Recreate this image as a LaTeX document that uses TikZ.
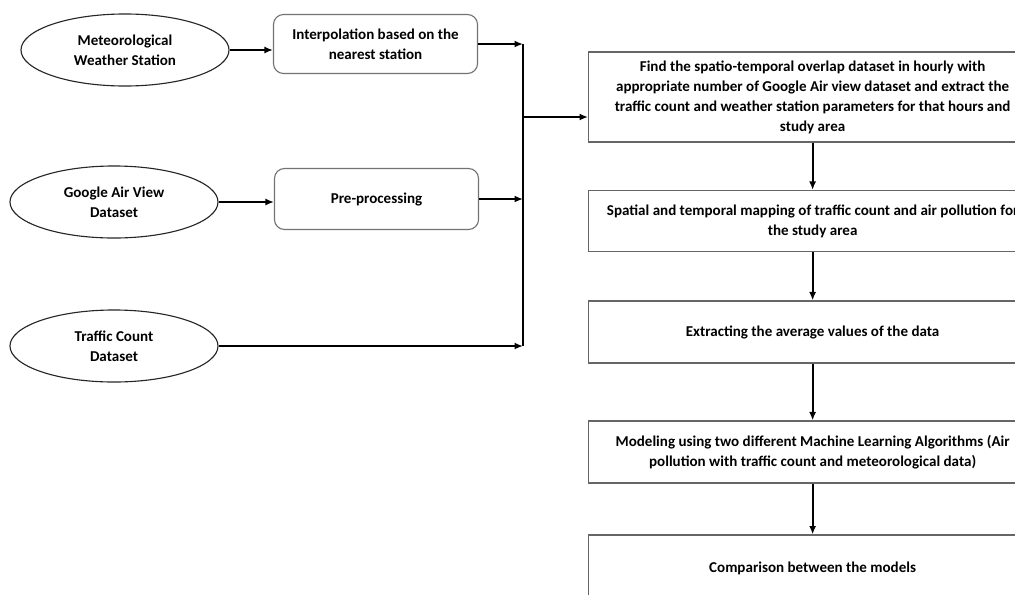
\documentclass[tikz,border=0pt]{standalone}
\usepackage{fontspec}
\setmainfont{Carlito}
\usetikzlibrary{arrows.meta,shapes.geometric}

\begin{document}
\begin{tikzpicture}[x=0.025cm, y=-0.025cm,
    txt/.style={font=\bfseries\fontsize{10.7}{14.2}\selectfont, align=center, inner sep=0pt},
    src/.style={txt, ellipse, draw=black!85, line width=0.8pt, minimum width=5.2cm, minimum height=1.8cm},
    prep/.style={txt, draw=black!55, line width=0.8pt, rounded corners=0.25cm, minimum width=5.1cm},
    stage/.style={txt, draw=black!60, line width=0.8pt, minimum width=11.2cm, anchor=west},
    arr/.style={line width=1.4pt, -{Latex[length=6pt,width=5pt]}}]
			%%%%% START %%%%%
			\useasboundingbox (0,0) rectangle (1015,594);
			\clip (0,0) rectangle (1015,594);
			
			\node[src] (met) at (125,50) {Meteorological\\Weather Station};
			\node[src] (gav) at (114,202) {Google Air View\\Dataset};
			\node[src] (tcd) at (114,346) {Traffic Count\\Dataset};
			
			\node[prep, minimum height=1.475cm] (interp) at (375.5,44) {Interpolation based on the\\nearest station};
			\node[prep, minimum height=1.525cm] (pre) at (376.5,199) {Pre-processing};
			
			\coordinate (bus) at (523,0);
			\coordinate (jn) at (523,117);
			
			\draw[arr] (met.east) -- (met.east -| interp.west);
			\draw[arr] (gav.east) -- (gav.east -| pre.west);
			\draw[arr] (interp.east) -- (interp.east -| bus);
			\draw[arr] (pre.east) -- (pre.east -| bus);
			\draw[arr] (tcd.east) -- (tcd.east -| bus);
			\draw[line width=1.4pt] (interp.east -| bus) -- (tcd.east -| bus);
			
			\node[stage, minimum height=2.25cm] (find) at (588,97) {Find the spatio-temporal overlap dataset in hourly with\\appropriate number of Google Air view dataset and extract the\\traffic count and weather station parameters for that hours and\\study area};
			\node[stage, minimum height=1.525cm] (map) at (588,221) {Spatial and temporal mapping of traffic count and air pollution for\\the study area};
			\node[stage, minimum height=1.55cm] (avg) at (588,332) {Extracting the average values of the data};
			\node[stage, minimum height=1.55cm] (model) at (588,452) {Modeling using two different Machine Learning Algorithms (Air\\pollution with traffic count and meteorological data)};
			\node[stage, minimum height=1.65cm] (comp) at (588,568) {Comparison between the models};
			
			\draw[arr] (jn) -- (jn -| find.west);
			\draw[arr] (find) -- (map);
			\draw[arr] (map) -- (avg);
			\draw[arr] (avg) -- (model);
			\draw[arr] (model) -- (comp);
			
			%%%%% END %%%%%
\end{tikzpicture}
\end{document}
